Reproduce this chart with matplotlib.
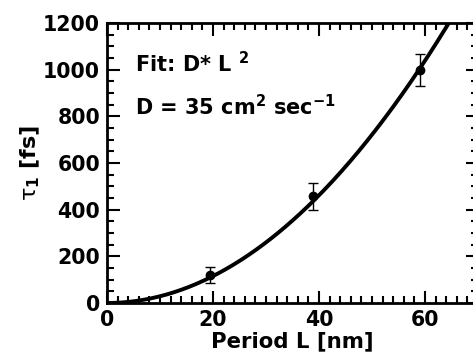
import numpy as np
import matplotlib
matplotlib.use("Agg")
import matplotlib.pyplot as plt
from matplotlib.ticker import MultipleLocator

period = [19.4, 38.9, 59.0]
tau = [120, 457, 998]
tau_err = [35, 57, 70]
fit_coef = 0.2885
xticks = [0, 20, 40, 60]
yticks = [0, 200, 400, 600, 800, 1000, 1200]

plt.rcParams['font.family'] = ['DejaVu Sans']
plt.rcParams['font.weight'] = 'bold'
plt.rcParams['mathtext.fontset'] = 'custom'
plt.rcParams['mathtext.rm'] = 'DejaVu Sans:normal'
plt.rcParams['mathtext.bf'] = 'DejaVu Sans:bold'
plt.rcParams['mathtext.it'] = 'DejaVu Sans:italic:normal'

fig = plt.figure(figsize=(4.73, 3.62), dpi=100)
ax = fig.add_axes([107/473, 59/362, (478-107)/473, (303-23)/362])

L = np.linspace(0, 70, 300)
ax.plot(L, fit_coef * L**2, color='black', lw=2.8)
ax.errorbar(period, tau, yerr=tau_err, fmt='o', color='black', ms=6,
            elinewidth=1, capsize=3.6, capthick=1)

ax.set_xlim(0, 70)
ax.set_ylim(0, 1200)
ax.set_xticks(xticks)
ax.set_yticks(yticks)
ax.xaxis.set_minor_locator(MultipleLocator(2))
ax.yaxis.set_minor_locator(MultipleLocator(50))
ax.tick_params(which='both', direction='in', top=True, right=True, width=1.5)
ax.tick_params(which='major', length=9, labelsize=14.8, pad=5)
ax.tick_params(which='minor', length=5)
for lab in ax.get_xticklabels() + ax.get_yticklabels():
    lab.set_fontweight('bold')
for s in ax.spines.values():
    s.set_linewidth(2)

ax.set_xlabel('Period L [nm]', fontsize=15.3, fontweight='bold', labelpad=1)
ax.set_ylabel(r'$\mathrm{\tau}_\mathbf{1}\ \mathbf{[fs]}$', fontsize=16, fontweight='normal', labelpad=1)

ax.text(5.3, 990, r'Fit: D* L $^\mathbf{2}$', fontsize=15, fontweight='bold', va='baseline')
ax.text(5.3, 806, r'D = 35 cm$^\mathbf{2}$ sec$^\mathbf{-1}$', fontsize=15, fontweight='bold', va='baseline')

fig.savefig('out.png', dpi=100)
